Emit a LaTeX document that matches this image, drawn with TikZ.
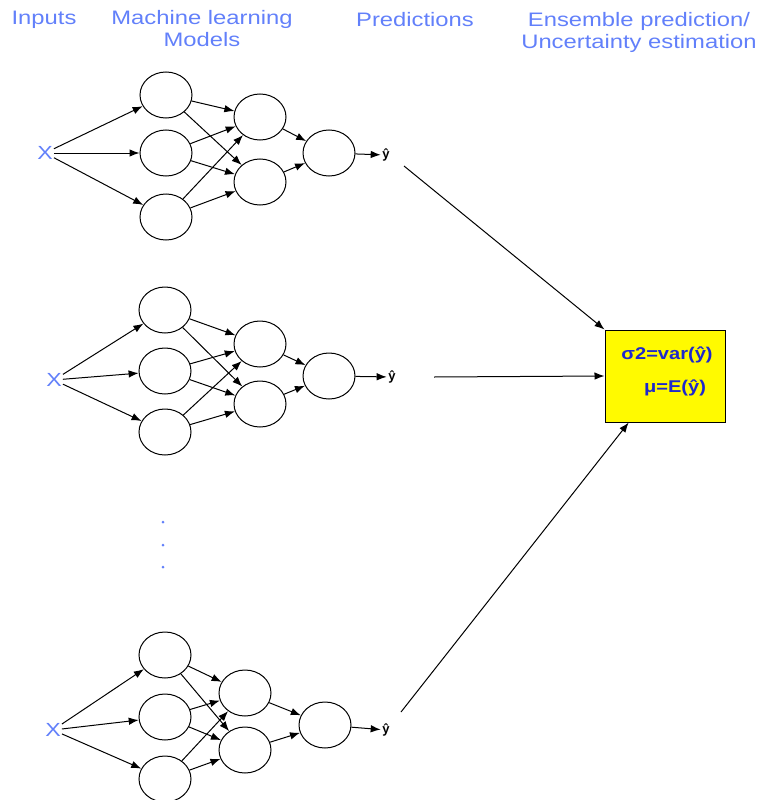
\documentclass[tikz,border=0pt]{standalone}
\usepackage{fontspec}
\setmainfont{Liberation Sans}
\newfontfamily\headfont[FakeStretch=1.22]{Liberation Sans}
\newfontfamily\boxfont[FakeStretch=1.18]{Liberation Sans}
\usetikzlibrary{arrows.meta,shapes.geometric,calc}
\definecolor{headblue}{RGB}{98,128,250}
\definecolor{deepblue}{RGB}{30,40,205}
\definecolor{boxyellow}{RGB}{255,250,0}
\begin{document}
\begin{tikzpicture}[x=1pt,y=-1pt,
  neuron/.style={draw=black,line width=1pt,ellipse,minimum width=52pt,minimum height=46pt,inner sep=0pt},
  edge/.style={draw=black,line width=1pt,-{Latex[length=10pt,width=7.5pt]}},
  head/.style={text=headblue,font=\headfont\fontsize{19.5}{22}\selectfont,align=center,inner sep=0pt},
  inp/.style={text=headblue,font=\headfont\fontsize{19}{20}\selectfont,inner sep=1pt},
  yhat/.style={font=\bfseries\fontsize{13}{15}\selectfont,inner sep=1.5pt},
  dotmark/.style={circle,fill=headblue,inner sep=0pt,minimum size=3pt}]
\useasboundingbox (0,0) rectangle (762,800);

% column headings
\node[head] (hIn)   at (44,20)  {Inputs};
\node[head] (hMod)  at (202,29) {Machine learning\\Models};
\node[head] (hPred) at (415,20) {Predictions};
\node[head] (hEns)  at (639,32) {Ensemble prediction/\\Uncertainty estimation};

% network 1
\node[inp] (X1) at (45,153) {X};
\node[neuron] (n1a) at (166,95) {};
\node[neuron] (n1b) at (166,153) {};
\node[neuron] (n1c) at (166,217) {};
\node[neuron] (m1a) at (260,117) {};
\node[neuron] (m1b) at (260,182) {};
\node[neuron] (o1)  at (329,153) {};
\node[yhat] (y1) at (386,155) {ŷ};

% network 2
\node[inp] (X2) at (54,380) {X};
\node[neuron] (n2a) at (165,310) {};
\node[neuron] (n2b) at (165,371) {};
\node[neuron] (n2c) at (165,432) {};
\node[neuron] (m2a) at (260,344) {};
\node[neuron] (m2b) at (260,404) {};
\node[neuron] (o2)  at (329,376) {};
\node[yhat] (y2) at (392,377) {ŷ};

% vertical ellipsis
\node[dotmark] (d1) at (163,522) {};
\node[dotmark] (d2) at (163,545) {};
\node[dotmark] (d3) at (163,567) {};

% network 3
\node[inp] (X3) at (53,730) {X};
\node[neuron] (n3a) at (165,655) {};
\node[neuron] (n3b) at (165,717) {};
\node[neuron] (n3c) at (165,779) {};
\node[neuron] (m3a) at (245,693) {};
\node[neuron] (m3b) at (245,750) {};
\node[neuron] (o3)  at (325,725) {};
\node[yhat] (y3) at (386,730) {ŷ};

% connections inside each network
\foreach \k in {1,2,3} {
  \foreach \a in {a,b,c} {
    \draw[edge] (X\k) -- (n\k\a);
    \foreach \b in {a,b} {
      \draw[edge] (n\k\a) -- (m\k\b);
    }
  }
  \draw[edge] (m\k a) -- (o\k);
  \draw[edge] (m\k b) -- (o\k);
  \draw[edge] (o\k) -- (y\k);
}

% ensemble box
\node[draw=black,line width=1pt,fill=boxyellow,minimum width=120pt,minimum height=92pt,inner sep=0pt]
  (box) at (665,376) {};
\node[text=deepblue,font=\boxfont\bfseries\fontsize{17}{20}\selectfont,inner sep=0pt] (var) at (667,355) {σ2=var(ŷ)};
\node[text=deepblue,font=\boxfont\bfseries\fontsize{17}{20}\selectfont,inner sep=0pt] (mean) at (675,388) {μ=E(ŷ)};

% predictions into the ensemble
\coordinate (s1) at (404,166);
\coordinate (s2) at (434,377);
\coordinate (s3) at (401,712);
\draw[edge] (s1) -- (box.north west);
\draw[edge] (s2) -- (box.west);
\draw[edge] (s3) -- ($(box.south west)!0.2!(box.south east)$);
\end{tikzpicture}
\end{document}
